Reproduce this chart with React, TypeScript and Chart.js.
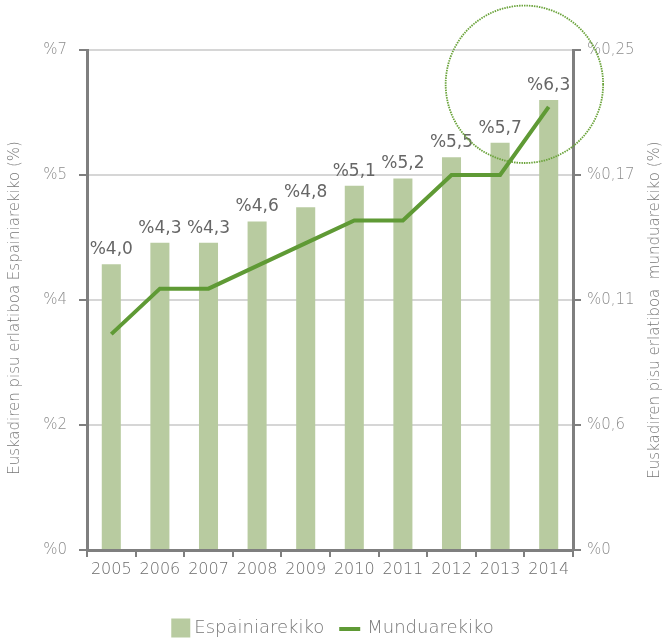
import React, { useEffect, useRef } from "react";
import { Chart, registerables } from "chart.js";
Chart.register(...registerables);

const years = ["2005", "2006", "2007", "2008", "2009", "2010", "2011", "2012", "2013", "2014"];
const spainShare = [4.0, 4.3, 4.3, 4.6, 4.8, 5.1, 5.2, 5.5, 5.7, 6.3];
const worldShare = [0.095, 0.115, 0.115, 0.125, 0.135, 0.145, 0.145, 0.165, 0.165, 0.195];
const barLabels = ["%4,0", "%4,3", "%4,3", "%4,6", "%4,8", "%5,1", "%5,2", "%5,5", "%5,7", "%6,3"];
const leftTickLabels = ["%0", "%2", "%4", "%5", "%7"];
const rightTickLabels = ["%0", "%0,6", "%0,11", "%0,17", "%0,25"];
const leftMax = 7;
const rightMax = 0.22;
const seriesNames = ["Espainiarekiko", "Munduarekiko"];
const leftTitle = "Euskadiren pisu erlatiboa Espainiarekiko (%)";
const rightTitle = "Euskadiren pisu erlatiboa  munduarekiko (%)";

const FONT = "'DejaVu Sans', sans-serif";
const BAR_COLOR = "#b8cba0";
const LINE_COLOR = "#5f9a35";
const TEXT = "#777777";
const AXIS = "#7f7f7f";

const extrasPlugin = {
  id: "extras",
  afterDatasetsDraw(chart: any) {
    const ctx = chart.ctx;
    const meta = chart.getDatasetMeta(1);
    ctx.save();
    ctx.font = `normal 17px ${FONT}`;
    ctx.fillStyle = "#666666";
    ctx.textAlign = "center";
    ctx.textBaseline = "bottom";
    meta.data.forEach((bar: any, i: number) => {
      ctx.fillText(barLabels[i], bar.x, bar.y - 6);
    });
    ctx.restore();
  },
  afterDraw(chart: any) {
    const ctx = chart.ctx;
    const area = chart.chartArea;
    const x = chart.scales.x;
    const y = chart.scales.y;
    ctx.save();
    // axis titles
    ctx.font = `300 15px ${FONT}`;
    ctx.fillStyle = TEXT;
    ctx.textAlign = "center";
    ctx.textBaseline = "middle";
    const midY = (area.top + area.bottom) / 2 + 8;
    ctx.save();
    ctx.translate(15, midY);
    ctx.rotate(-Math.PI / 2);
    ctx.fillText(leftTitle, 0, 0);
    ctx.restore();
    ctx.save();
    ctx.translate(chart.width - 10, midY + 2);
    ctx.rotate(-Math.PI / 2);
    ctx.fillText(rightTitle, 0, 0);
    ctx.restore();

    // dotted circle highlight
    const cx = (x.getPixelForValue(8) + x.getPixelForValue(9)) / 2;
    const cy = y.getPixelForValue(6.52);
    const r = (x.getPixelForValue(9) - x.getPixelForValue(8)) * 1.62;
    ctx.beginPath();
    ctx.setLineDash([1.5, 1]);
    ctx.lineWidth = 1.8;
    ctx.strokeStyle = "#6aa33a";
    ctx.arc(cx, cy, r, 0, Math.PI * 2);
    ctx.stroke();
    ctx.setLineDash([]);

    // legend
    ctx.font = `300 18px ${FONT}`;
    ctx.textAlign = "left";
    const box = 19;
    const w1 = ctx.measureText(seriesNames[0]).width;
    const w2 = ctx.measureText(seriesNames[1]).width;
    const lineW = 21;
    const total = box + 4 + w1 + 15 + lineW + 7 + w2;
    let lx = chart.width / 2 - total / 2;
    const ly = 628;
    ctx.fillStyle = BAR_COLOR;
    ctx.fillRect(lx, ly - box / 2, box, box);
    lx += box + 4;
    ctx.fillStyle = TEXT;
    ctx.fillText(seriesNames[0], lx, ly);
    lx += w1 + 15;
    ctx.strokeStyle = LINE_COLOR;
    ctx.lineWidth = 4;
    ctx.beginPath();
    ctx.moveTo(lx, ly + 1);
    ctx.lineTo(lx + lineW, ly + 1);
    ctx.stroke();
    lx += lineW + 7;
    ctx.fillText(seriesNames[1], lx, ly);
    ctx.restore();
  },
};

export default function App() {
  const ref = useRef<HTMLCanvasElement>(null);
  useEffect(() => {
    if (!ref.current) return;
    const chart = new Chart(ref.current, {
      type: "bar",
      data: {
        labels: years,
        datasets: [
          {
            type: "line",
            label: seriesNames[1],
            data: worldShare,
            yAxisID: "y2",
            borderColor: LINE_COLOR,
            backgroundColor: LINE_COLOR,
            borderWidth: 4,
            pointRadius: 0,
            tension: 0,
            order: 0,
          } as any,
          {
            type: "bar",
            label: seriesNames[0],
            data: spainShare,
            yAxisID: "y",
            backgroundColor: BAR_COLOR,
            barPercentage: 0.49,
            categoryPercentage: 0.8,
            order: 1,
          },
        ],
      },
      options: {
        responsive: false,
        animation: false,
        layout: { padding: { top: 50, left: 0, right: 0, bottom: 0 } },
        plugins: { legend: { display: false }, tooltip: { enabled: false } },
        scales: {
          x: {
            offset: true,
            grid: {
              offset: true,
              drawOnChartArea: false,
              tickLength: 7,
              tickColor: AXIS,
              lineWidth: 2,
            },
            border: { color: AXIS, width: 3 },
            ticks: { color: "#6b6b6b", font: { family: FONT, size: 16, weight: "300" }, padding: 3, maxRotation: 0 },
            afterFit: (s: any) => {
              s.height = 88;
            },
          },
          y: {
            position: "left",
            min: 0,
            max: leftMax,
            afterBuildTicks: (s: any) => {
              s.ticks = [0, 1, 2, 3, 4].map((i) => ({ value: (i * leftMax) / 4 }));
            },
            grid: { color: "#d6d6d6", lineWidth: 2, tickColor: AXIS, tickLength: 8 },
            border: { color: AXIS, width: 3 },
            ticks: {
              color: "#8c8c8c",
              font: { family: FONT, size: 15, weight: "300" },
              padding: 12,
              callback: (_v: any, i: number) => leftTickLabels[i],
            },
            afterFit: (s: any) => {
              s.width = 87;
            },
          },
          y2: {
            position: "right",
            min: 0,
            max: rightMax,
            afterBuildTicks: (s: any) => {
              s.ticks = [0, 1, 2, 3, 4].map((i) => ({ value: (i * rightMax) / 4 }));
            },
            grid: { drawOnChartArea: false, tickColor: AXIS, tickLength: 8, lineWidth: 2 },
            border: { color: AXIS, width: 3 },
            ticks: {
              color: "#8c8c8c",
              font: { family: FONT, size: 15, weight: "300" },
              padding: 6,
              callback: (_v: any, i: number) => rightTickLabels[i],
            },
            afterFit: (s: any) => {
              s.width = 92;
            },
          },
        },
      } as any,
      plugins: [extrasPlugin],
    });
    return () => chart.destroy();
  }, []);
  return (
    <div style={{ position: "absolute", left: 0, top: 0, width: 665, height: 638, background: "#fff" }}>
      <canvas ref={ref} width={665} height={638} style={{ display: "block" }} />
    </div>
  );
}
